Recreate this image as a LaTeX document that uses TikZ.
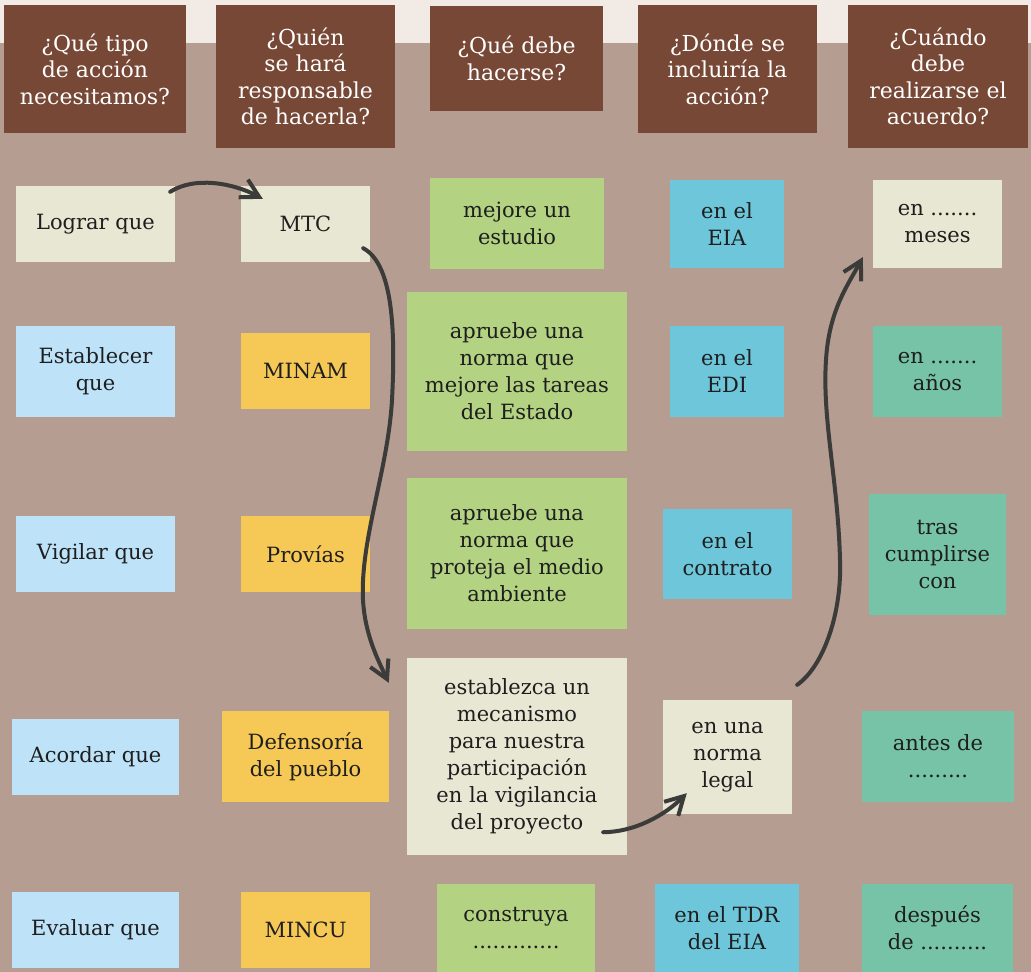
\documentclass[tikz,border=0pt]{standalone}
\usepackage{fontspec}
\setmainfont{DejaVu Serif}
\usetikzlibrary{arrows.meta,calc}
\definecolor{bg}{HTML}{B59D92}
\definecolor{topband}{HTML}{F2EBE5}
\definecolor{hbrown}{HTML}{774836}
\definecolor{beige}{HTML}{E8E7D3}
\definecolor{lgreen}{HTML}{B3D282}
\definecolor{skyb}{HTML}{6EC6DA}
\definecolor{lblue}{HTML}{BEE3F9}
\definecolor{ylw}{HTML}{F6C855}
\definecolor{teal}{HTML}{76C3A8}
\definecolor{arrowc}{HTML}{3B3B3A}
\definecolor{txt}{HTML}{1E1E1E}
\newcommand\mkbox[7]{\node[#2, minimum width={(#5-#3)*1pt}, minimum height={(#6-#4)*1pt}] (#1) at ({(#3+#5)/2},{(#4+#6)/2}) {#7};}
\begin{document}
\begin{tikzpicture}[x=1pt,y=-1pt,
  box/.style={rectangle, inner sep=0pt, align=center, text=txt, font=\fontsize{21}{27}\selectfont},
  hdr/.style={box, fill=hbrown, text=white, font=\fontsize{22}{26.5}\selectfont},
  arr/.style={draw=arrowc, line width=4pt, line cap=round, -{Straight Barb[length=18pt,width=20pt]}}]
\useasboundingbox (0,0) rectangle (1031,972);
\fill[bg] (0,0) rectangle (1031,972);
\fill[topband] (0,0) rectangle (1031,43);
% headers
\mkbox{h1}{hdr}{4}{5}{186}{133}{¿Qué tipo\\de acción\\necesitamos?}
\mkbox{h2}{hdr}{216}{5}{395}{148}{¿Quién\\se hará\\responsable\\de hacerla?}
\mkbox{h3}{hdr}{430}{6}{603}{111}{¿Qué debe\\hacerse?}
\mkbox{h4}{hdr}{638}{5}{817}{133}{¿Dónde se\\incluiría la\\acción?}
\mkbox{h5}{hdr}{848}{5}{1028}{148}{¿Cuándo\\debe\\realizarse el\\acuerdo?}
% row 1
\mkbox{a1}{box,fill=beige}{16}{186}{175}{262}{Lograr que}
\mkbox{b1}{box,fill=beige}{241}{186}{370}{262}{MTC}
\mkbox{c1}{box,fill=lgreen}{430}{178}{604}{269}{mejore un\\estudio}
\mkbox{d1}{box,fill=skyb}{670}{180}{784}{268}{en el\\EIA}
\mkbox{e1}{box,fill=beige}{873}{180}{1002}{268}{en .......\\meses}
% row 2
\mkbox{a2}{box,fill=lblue}{16}{326}{175}{417}{Establecer\\que}
\mkbox{b2}{box,fill=ylw}{241}{333}{370}{409}{MINAM}
\mkbox{c2}{box,fill=lgreen}{407}{292}{627}{451}{apruebe una\\norma que\\mejore las tareas\\del Estado}
\mkbox{d2}{box,fill=skyb}{670}{326}{784}{417}{en el\\EDI}
\mkbox{e2}{box,fill=teal}{873}{326}{1002}{417}{en .......\\años}
% row 3
\mkbox{a3}{box,fill=lblue}{16}{516}{175}{592}{Vigilar que}
\mkbox{b3}{box,fill=ylw}{241}{516}{370}{592}{Provías}
\mkbox{c3}{box,fill=lgreen}{407}{478}{627}{629}{apruebe una\\norma que\\proteja el medio\\ambiente}
\mkbox{d3}{box,fill=skyb}{663}{509}{792}{599}{en el\\contrato}
\mkbox{e3}{box,fill=teal}{869}{494}{1006}{615}{tras\\cumplirse\\con}
% row 4
\mkbox{a4}{box,fill=lblue}{12}{719}{179}{795}{Acordar que}
\mkbox{b4}{box,fill=ylw}{222}{711}{389}{802}{Defensoría\\del pueblo}
\mkbox{c4}{box,fill=beige}{407}{658}{627}{855}{establezca un\\mecanismo\\para nuestra\\participación\\en la vigilancia\\del proyecto}
\mkbox{d4}{box,fill=beige}{663}{700}{792}{814}{en una\\norma\\legal}
\mkbox{e4}{box,fill=teal}{862}{711}{1014}{802}{antes de\\.........}
% row 5
\mkbox{a5}{box,fill=lblue}{12}{892}{179}{968}{Evaluar que}
\mkbox{b5}{box,fill=ylw}{241}{892}{370}{968}{MINCU}
\mkbox{c5}{box,fill=lgreen}{437}{884}{595}{972}{construya\\.............}
\mkbox{d5}{box,fill=skyb}{655}{884}{799}{972}{en el TDR\\del EIA}
\mkbox{e5}{box,fill=teal}{862}{884}{1013}{972}{después\\de ..........}
% arrows
\draw[arr] ($(a1.north east)+(-5,6)$) .. controls (195,176) and (233,183) .. ($(b1.north west)+(22,13)$);
\draw[arr] ($(b1.south east)+(-7,-14)$) .. controls (395,265) and (395,340) .. (392,400)
  .. controls (388,470) and (360,540) .. (363,600)
  .. controls (365,635) and (378,660) .. ($(c4.north west)+(-18,25)$);
\draw[arr] ($(c4.south east)+(-24,-23)$) .. controls (635,832) and (665,815) .. ($(d4.south west)+(24,-21)$);
\draw[arr] ($(d4.north east)+(5,-15)$) .. controls (825,665) and (842,610) .. (840,560)
  .. controls (838,480) and (822,420) .. (826,360)
  .. controls (829,310) and (848,285) .. ($(e1.south west)+(-10,-11)$);
\end{tikzpicture}
\end{document}
